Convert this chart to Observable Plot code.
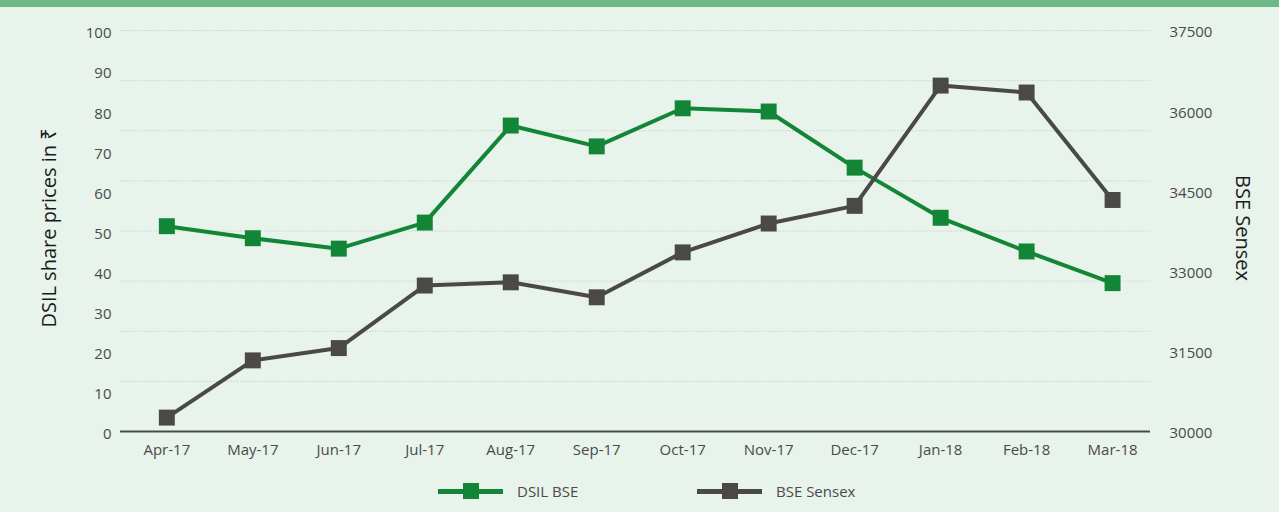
<!DOCTYPE html>
<html>
<head>
<meta charset="utf-8">
<script src="https://cdn.jsdelivr.net/npm/d3@7"></script>
<script src="https://cdn.jsdelivr.net/npm/@observablehq/plot@0.6"></script>
<style>
  html, body { margin: 0; padding: 0; background: #e8f3eb; width: 1279px; height: 512px; overflow: hidden; font-family: "Open Sans", "Noto Sans", sans-serif; }
  #band { height: 7px; background: #6eb886; }
  #chart svg { display: block; background: transparent; }
  #legend { position: relative; height: 42px; color: #4a4a4a; font-size: 15px; }
  .item { position: absolute; top: 0; height: 42px; display: flex; align-items: center; }
  .sw { position: relative; width: 65px; height: 16px; margin-right: 14px; }
  .sw .ln { position: absolute; left: 0; right: 0; top: 6px; height: 5px; }
  .sw .sq { position: absolute; left: 25px; top: 0; width: 16px; height: 16px; }
</style>
</head>
<body>
<div id="band"></div>
<div id="chart"></div>
<div id="legend"></div>
<script>
const months = ["Apr-17","May-17","Jun-17","Jul-17","Aug-17","Sep-17","Oct-17","Nov-17","Dec-17","Jan-18","Feb-18","Mar-18"];
const dsilBse = [51.2, 48.2, 45.6, 52.1, 76.3, 71.1, 80.6, 79.8, 65.8, 53.3, 44.9, 37.0];
const bseSensex = [30260, 31330, 31560, 32730, 32790, 32510, 33350, 33890, 34220, 36470, 36340, 34330];
const leftTicks = [0, 10, 20, 30, 40, 50, 60, 70, 80, 90, 100];
const rightTicks = [30000, 31500, 33000, 34500, 36000, 37500];
const seriesNames = ["DSIL BSE", "BSE Sensex"];
const colors = ["#128636", "#4a4948"];

const sMin = 30000, sMax = 37500;
const toLeft = s => (s - sMin) / (sMax - sMin) * 100;
const gridVals = d3.range(1, 9).map(i => i * 12.5);

const dsil = months.map((m, i) => ({month: m, v: dsilBse[i]}));
const sens = months.map((m, i) => ({month: m, v: toLeft(bseSensex[i]), raw: bseSensex[i]}));

const chart = Plot.plot({
  width: 1279,
  height: 463,
  marginLeft: 120,
  marginRight: 129,
  marginTop: 23,
  marginBottom: 39,
  style: {fontFamily: "'Open Sans', 'Noto Sans', sans-serif", background: "transparent"},
  x: {type: "point", domain: months, padding: 0.49, align: 0.55, round: false, label: null},
  y: {domain: [0, 100], label: null},
  marks: [
    Plot.ruleY(gridVals, {stroke: "#c9d3cc", strokeWidth: 1, strokeDasharray: "1.5,1.5"}),
    Plot.ruleY([0], {stroke: "#4a4a4a", strokeWidth: 2}),
    Plot.axisX({tickSize: 0, tickPadding: 13, fontSize: 15, fill: "#4a4a4a", label: null}),
    Plot.axisY(leftTicks, {anchor: "left", tickSize: 0, tickPadding: 9, dy: 3, fontSize: 15, fill: "#4a4a4a", label: null}),
    Plot.axisY(rightTicks.map(toLeft), {anchor: "right", tickSize: 0, tickPadding: 19, dy: 2, fontSize: 15, fill: "#4a4a4a", label: null,
      tickFormat: d => String(Math.round(sMin + d / 100 * (sMax - sMin)))}),
    Plot.text(["DSIL share prices in ₹"], {frameAnchor: "left", textAnchor: "middle", dx: -71, dy: -3, rotate: -90, fontSize: 20, fill: "#1a1a1a"}),
    Plot.text(["BSE Sensex"], {frameAnchor: "right", textAnchor: "middle", dx: 92, dy: -3, rotate: 90, fontSize: 20, fill: "#1a1a1a"}),
    Plot.line(dsil, {x: "month", y: "v", stroke: colors[0], strokeWidth: 4}),
    Plot.dot(dsil, {x: "month", y: "v", symbol: "square", r: 9, fill: colors[0]}),
    Plot.line(sens, {x: "month", y: "v", stroke: colors[1], strokeWidth: 4}),
    Plot.dot(sens, {x: "month", y: "v", symbol: "square", r: 9, fill: colors[1]})
  ]
});
document.getElementById("chart").appendChild(chart);

const legend = document.getElementById("legend");
const lefts = [438, 697];
seriesNames.forEach((name, i) => {
  const it = document.createElement("div");
  it.className = "item";
  it.style.left = lefts[i] + "px";
  it.innerHTML = `<div class="sw"><div class="ln" style="background:${colors[i]}"></div><div class="sq" style="background:${colors[i]}"></div></div><span>${name}</span>`;
  legend.appendChild(it);
});
</script>
</body>
</html>
